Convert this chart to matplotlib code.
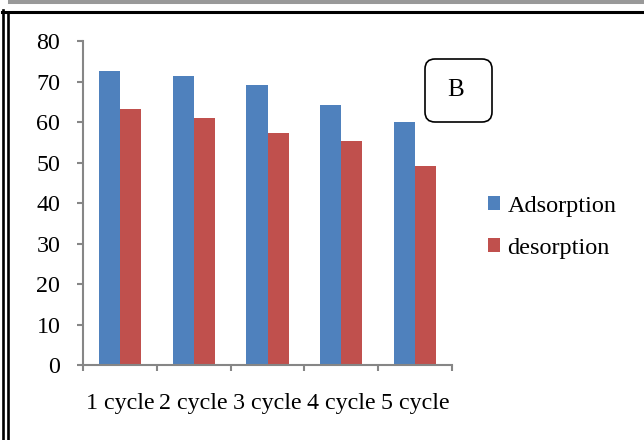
import matplotlib
matplotlib.use('Agg')
import matplotlib.pyplot as plt
import numpy as np
from matplotlib.patches import FancyBboxPatch
from matplotlib.lines import Line2D
from matplotlib.transforms import IdentityTransform

# reuse cycles, % removal
cycles = ['1 cycle', '2 cycle', '3 cycle', '4 cycle', '5 cycle']
adsorption = [72.5, 71.3, 69.2, 64.3, 60.0]
desorption = [63.1, 61.1, 57.4, 55.4, 49.2]

plt.rcParams['font.family'] = ['Liberation Serif', 'DejaVu Serif']

fig = plt.figure(figsize=(6.44, 4.40), dpi=100)
ax = fig.add_axes([83/644, 1 - 365/440, 369/644, 324/440])

x = np.arange(len(cycles))
w = 1 / 3.5
ax.bar(x - w/2, adsorption, w, color='#4F81BD', label='Adsorption')
ax.bar(x + w/2, desorption, w, color='#C0504D', label='desorption')

ax.set_xlim(-0.5, len(cycles) - 0.5)
ax.set_ylim(0, 80)
ax.set_yticks(range(0, 81, 10))

axis_grey = '#868686'
for s in ['top', 'right']:
    ax.spines[s].set_visible(False)
for s in ['left', 'bottom']:
    ax.spines[s].set_color(axis_grey)
    ax.spines[s].set_linewidth(1.5)

ax.set_xticks(x)
ax.set_xticklabels(cycles)
ax.set_xticks(np.arange(-0.5, len(cycles)), minor=True)
ax.tick_params(axis='x', which='major', length=0, pad=20, labelsize=17.3)
ax.tick_params(axis='x', which='minor', length=4.3, width=1.5, color=axis_grey)
ax.tick_params(axis='y', length=4.3, width=1.5, color=axis_grey, pad=12, labelsize=17.3)

ax.legend(loc='upper left', bbox_to_anchor=(488/644, 1 - 196/440),
          bbox_transform=fig.transFigure, frameon=False, fontsize=17.5,
          handlelength=0.5, handleheight=0.5, handletextpad=0.3,
          labelspacing=0.85, borderpad=0, borderaxespad=0)

# panel label box
px = IdentityTransform()
fig.add_artist(FancyBboxPatch((425, 440 - 122), 67, 63,
                              boxstyle='round,pad=0,rounding_size=10',
                              transform=px, facecolor='white',
                              edgecolor='black', linewidth=1.2))
fig.text(456 / 644, 1 - 90 / 440, 'B', fontsize=18,
         ha='center', va='center')

# page frame lines
fig.add_artist(Line2D([10, 644], [438, 438], transform=px, color='#999999', linewidth=2.9))
fig.add_artist(Line2D([2, 644], [428.5, 428.5], transform=px, color='black', linewidth=2.2))
fig.add_artist(Line2D([2.5, 2.5], [0, 430], transform=px, color='black', linewidth=1.9))
fig.add_artist(Line2D([7.8, 7.8], [0, 428], transform=px, color='black', linewidth=1.9))

fig.savefig('out.png', dpi=100)
